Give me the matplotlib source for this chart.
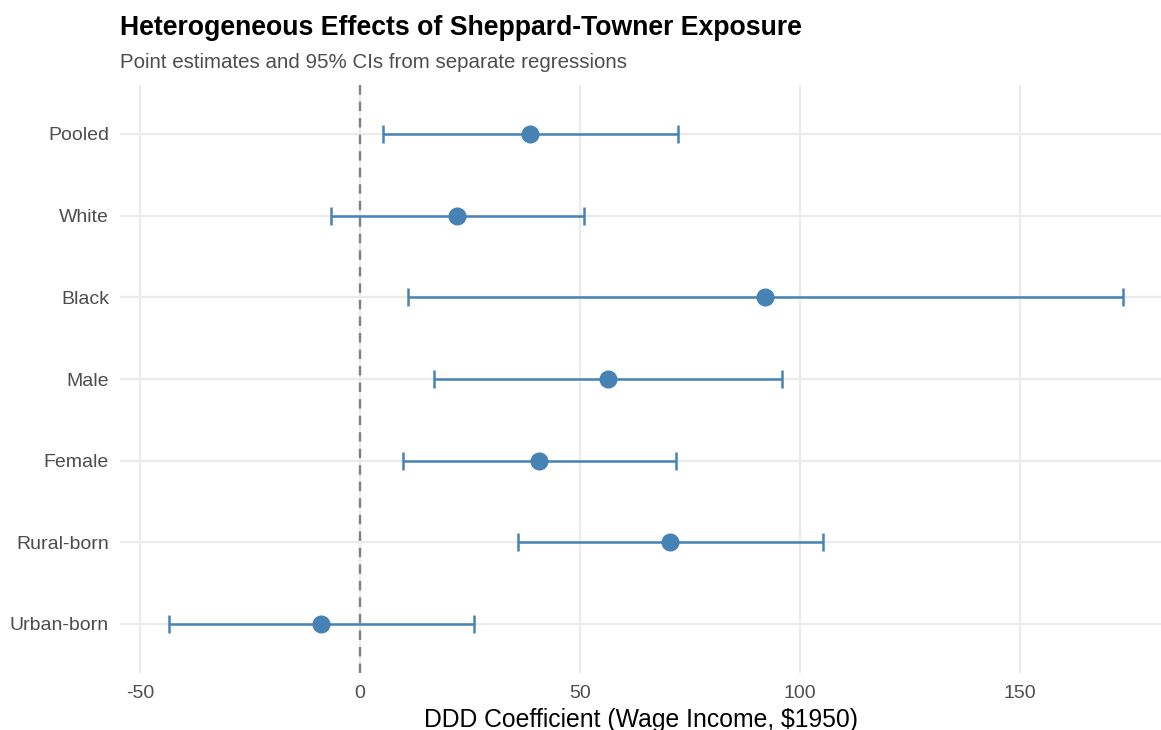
import matplotlib
matplotlib.use("Agg")
import matplotlib.pyplot as plt
import numpy as np

plt.rcParams['font.family'] = ['Liberation Sans', 'DejaVu Sans']

groups = ["Pooled", "White", "Black", "Male", "Female", "Rural-born", "Urban-born"]
estimates = [38.7, 22.0, 92.0, 56.4, 40.7, 70.5, -8.9]
ci_low = [5.3, -6.6, 10.9, 16.8, 9.8, 35.9, -43.4]
ci_high = [72.2, 50.9, 173.4, 95.9, 71.8, 105.2, 26.0]
xticks = [-50, 0, 50, 100, 150]

color = "#4682B4"

fig = plt.figure(figsize=(11.61, 7.30), dpi=100)
ax = fig.add_axes([120/1161, 1 - 673/730, 1 - 120/1161, (673 - 85)/730])

ypos = np.arange(len(groups))
est = np.array(estimates)
lo = np.array(ci_low)
hi = np.array(ci_high)

ax.axvline(0, color="#808080", lw=1.7, ls=(0, (4, 3)), zorder=2)
ax.errorbar(est, ypos, xerr=[est - lo, hi - est], fmt='none', ecolor=color,
            elinewidth=1.8, capsize=6.5, capthick=1.8, zorder=3)
ax.plot(est, ypos, 'o', color=color, markersize=12, zorder=4)

ax.set_xlim(-54.5, 182.0)
ax.set_ylim(len(groups) - 1 + 0.6, -0.6)
ax.set_xticks(xticks)
ax.set_xticklabels([str(t) for t in xticks])
ax.set_yticks(ypos)
ax.set_yticklabels(groups)

ax.grid(True, color="#ebebeb", lw=1.6, zorder=0)
ax.set_axisbelow(True)
for s in ax.spines.values():
    s.set_visible(False)
ax.tick_params(axis='both', length=0, labelsize=14, labelcolor="#4d4d4d")
ax.tick_params(axis='y', pad=8)
ax.tick_params(axis='x', pad=9)

ax.set_xlabel("DDD Coefficient (Wage Income, $1950)", fontsize=17.8, color="black", labelpad=4)

fig.text(120/1161, 1 - 28/730, "Heterogeneous Effects of Sheppard-Towner Exposure",
         fontsize=19.2, fontweight='bold', va='center', ha='left', color='black')
fig.text(120/1161, 1 - 62/730, "Point estimates and 95% CIs from separate regressions",
         fontsize=14.8, va='center', ha='left', color='#4d4d4d')

fig.savefig("out.png", dpi=100)
